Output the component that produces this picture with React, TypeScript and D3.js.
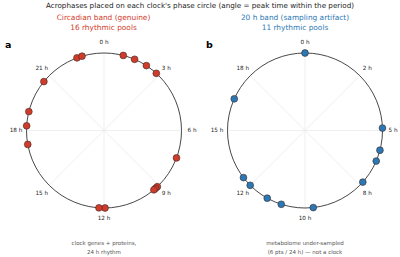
import * as d3 from "d3";

const WIDTH = 400;
const HEIGHT = 257;
const RADIUS = 77.5;
const LABEL_RADIUS = 88;
const CY = 130.5;

// peak times (hours within the period) for each rhythmic pool
const circadianPeaks = [22.64, 22.9, 0.96, 1.55, 2.21, 2.83, 7.38, 9.1, 9.22, 9.33, 11.95, 12.25, 17.31, 18.23, 18.94, 20.61];
const circadianTicks = ["0 h", "3 h", "6 h", "9 h", "12 h", "15 h", "18 h", "21 h"];

const artifactPeaks = [0.0, 16.34, 4.9, 5.82, 6.29, 7.32, 9.66, 10.99, 11.62, 12.5, 12.92];
const artifactTicks = ["0 h", "2 h", "5 h", "8 h", "10 h", "12 h", "15 h", "18 h"];

const RED = "#d13b2a";
const BLUE = "#2b78b4";

type PanelProps = {
  cx: number;
  period: number;
  peaks: number[];
  ticks: string[];
  color: string;
  letter: string;
  title: string[];
  titleX: number;
  note: string[];
};

const PhaseCircle = ({ cx, period, peaks, ticks, color, letter, title, titleX, note }: PanelProps) => {
  // angle 0 at the top, running clockwise over one period
  const angle = d3.scaleLinear().domain([0, period]).range([0, 2 * Math.PI]);
  const spokeAngle = d3.scaleLinear().domain([0, ticks.length]).range([0, 2 * Math.PI]);
  const pos = (a: number, r: number) => [cx + r * Math.sin(a), CY - r * Math.cos(a)];

  return (
    <g>
      {title.map((t, i) => (
        <text key={i} x={titleX} y={20.3 + i * 9.3} textAnchor="middle" fontSize={7.4} fill={color}>
          {t}
        </text>
      ))}
      <text x={cx - 99} y={47.5} fontSize={9.5} fontWeight="bold" fill="#000">
        {letter}
      </text>
      {ticks.map((t, i) => {
        const a = spokeAngle(i);
        const [x2, y2] = pos(a, RADIUS);
        const [lx, ly] = pos(a, LABEL_RADIUS);
        return (
          <g key={t}>
            <line x1={cx} y1={CY} x2={x2} y2={y2} stroke="#e8e8e8" strokeWidth={0.7} />
            <text x={lx} y={ly} dy="0.35em" textAnchor="middle" fontSize={5.7} fill="#222">
              {t}
            </text>
          </g>
        );
      })}
      <circle cx={cx} cy={CY} r={RADIUS} fill="none" stroke="#333" strokeWidth={0.9} />
      {peaks.map((p, i) => {
        const [x, y] = pos(angle(p), RADIUS);
        return <circle key={i} cx={x} cy={y} r={3.4} fill={color} stroke="#3a2a2a" strokeWidth={0.6} />;
      })}
      {note.map((t, i) => (
        <text key={i} x={cx} y={245 + i * 8.8} textAnchor="middle" fontSize={5.5} fill="#555">
          {t}
        </text>
      ))}
    </g>
  );
};

export default function App() {
  return (
    <svg
      width={WIDTH}
      height={HEIGHT}
      style={{ position: "absolute", left: 0, top: 0, fontFamily: "DejaVu Sans, sans-serif", background: "#fff" }}
    >
      <rect width={WIDTH} height={HEIGHT} fill="#fff" />
      <text x={200} y={8} textAnchor="middle" fontSize={7.2} fill="#222">
        Acrophases placed on each clock's phase circle (angle = peak time within the period)
      </text>
      <PhaseCircle
        cx={104}
        period={24}
        peaks={circadianPeaks}
        ticks={circadianTicks}
        color={RED}
        letter="a"
        title={["Circadian band (genuine)", "16 rhythmic pools"]}
        titleX={103.5}
        note={["clock genes + proteins,", "24 h rhythm"]}
      />
      <PhaseCircle
        cx={305}
        period={20}
        peaks={artifactPeaks}
        ticks={artifactTicks}
        color={BLUE}
        letter="b"
        title={["20 h band (sampling artifact)", "11 rhythmic pools"]}
        titleX={295}
        note={["metabolome under-sampled", "(6 pts / 24 h) — not a clock"]}
      />
    </svg>
  );
}
